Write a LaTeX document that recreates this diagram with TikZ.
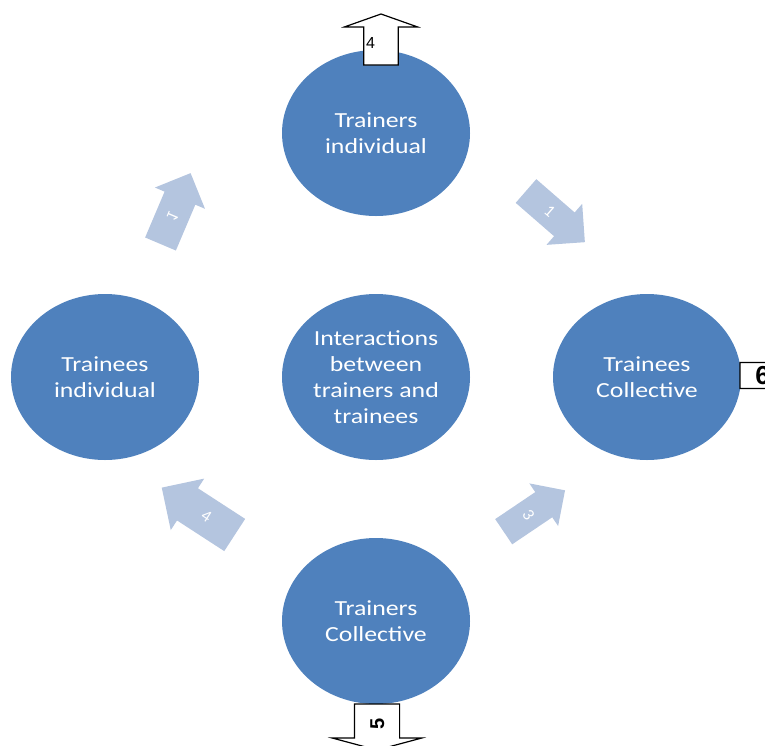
\documentclass[tikz,border=0pt]{standalone}
\usepackage{fontspec}
\newfontfamily\bubblefont{Carlito}[FakeStretch=1.2]
\newfontfamily\flowfont{Carlito}
\newfontfamily\markfont{Liberation Sans}
\usepackage{xcolor}
\definecolor{colorBubble}{HTML}{4F81BD}
\definecolor{colorFlow}{HTML}{B4C5DF}
\usetikzlibrary{shapes.geometric, shapes.arrows, positioning}

\begin{document}
\begin{tikzpicture}[x=1pt, y=-1pt, node distance=78pt and 83pt,
  bubble/.style={ellipse, fill=colorBubble, minimum width=188pt, minimum height=166pt, inner sep=0pt, outer sep=0pt, text=white, align=center, font=\bubblefont\fontsize{21.5pt}{26pt}\selectfont},
  flow/.style={single arrow, fill=colorFlow, text=white, inner sep=1pt, outer sep=0pt, anchor=tail, text height=10pt, text depth=0pt, font=\flowfont\fontsize{17pt}{19pt}\selectfont},
  outflow/.style={single arrow, draw=black, fill=white, line width=1.2pt, inner sep=1pt, outer sep=0pt, anchor=tail, font=\markfont\fontsize{16pt}{18pt}\selectfont}]
\useasboundingbox (0,0) rectangle (765,745);
% the five bubbles
\node[bubble] (inter) at (376,377) {Interactions\\between\\trainers and\\trainees};
\node[bubble, above=of inter] (trainersInd) {Trainers\\individual};
\node[bubble, left=of inter] (traineesInd) {Trainees\\individual};
\node[bubble, right=of inter] (traineesCol) {Trainees\\Collective};
\node[bubble, below=of inter] (trainersCol) {Trainers\\Collective};
% light arrows between the bubbles
\node[flow, minimum height=77pt, inner ysep=11.5pt, single arrow head extend=10.5pt, rotate=67, yscale=-1] (flowA) at (160.5,244) {1};
\node[flow, minimum height=78pt, inner ysep=10.5pt, single arrow head extend=11.5pt, rotate=-41] (flowB) at (526,191) {1};
\node[flow, minimum height=87pt, inner ysep=14pt, single arrow head extend=11.5pt, rotate=-33, shape border rotate=180] (flowC) at (234.7,535) {4};
\node[flow, minimum height=74pt, text width=9pt, align=center, inner xsep=10.5pt, single arrow head extend=10.5pt, rotate=-56, shape border rotate=90] (flowD) at (503.7,531.7) {3};
% outlined arrows
\node[outflow, minimum height=51pt, minimum width=73pt, single arrow head extend=18.5pt, single arrow tip angle=141, shape border rotate=90, text width=30pt, align=left] (outTop) at (381,65) {4};
\node[outflow, minimum height=46pt, text height=14pt, text depth=0pt, inner ysep=15pt, single arrow head extend=22pt, single arrow tip angle=150, rotate=90, shape border rotate=180, font=\markfont\bfseries\fontsize{20pt}{22pt}\selectfont] (outBottom) at (377,704) {5};
\node[outflow, minimum height=50pt, minimum width=66pt, single arrow head extend=16.5pt, single arrow tip angle=140, font=\markfont\bfseries\fontsize{26pt}{28pt}\selectfont] (outRight) at (740,375.5) {6};
\end{tikzpicture}
\end{document}
